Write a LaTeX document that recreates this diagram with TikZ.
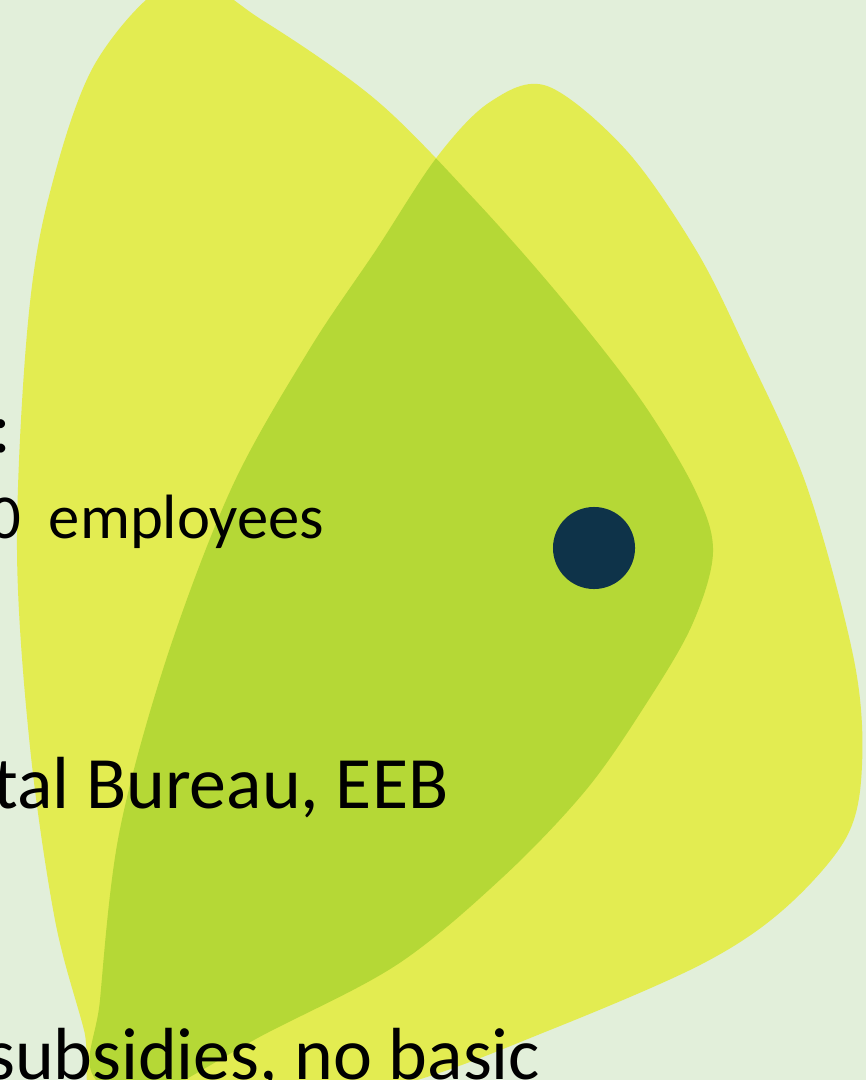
\documentclass[tikz,border=0pt]{standalone}
\usepackage{fontspec}
\setmainfont{Carlito}
\definecolor{bg}{HTML}{E2EFDA}
\definecolor{leaf}{HTML}{E3EC51}
\definecolor{overlap}{HTML}{B5D836}
\definecolor{dotblue}{HTML}{0E3349}
\newcommand\leftleaf{plot[smooth cycle, tension=0.55] coordinates {
  (180,-22) (262,20) (376,100) (475,200) (563,300) (641,400) (695,490)
  (713,552) (692,625) (646,704) (586,790) (503,877) (398,964) (267,1033)
  (105,1115) (84,1030) (55,920) (30,747) (17,550) (27,333) (48,200)
  (96,62)}}
\newcommand\rightleaf{plot[smooth cycle, tension=0.55] coordinates {
  (547,86) (626,150) (696,250) (746,350) (807,487) (854,660) (862,765)
  (846,838) (783,910) (700,965) (550,1030) (400,1085) (200,1125)
  (96,1080) (100,1000) (119,834) (166,660) (232,487) (309,350) (376,250)
  (437,157) (490,102)}}
\tikzset{
  main/.style={anchor=base east, inner sep=0pt, font=\fontsize{21}{25}\selectfont},
  sub/.style={anchor=base east, inner sep=0pt, font=\fontsize{17.8}{21}\selectfont},
  dot/.style={circle, fill=dotblue, inner sep=0pt, minimum size=0.82cm}
}

\begin{document}
\begin{tikzpicture}[x=0.01cm,y=-0.01cm]
  \useasboundingbox (0,0) rectangle (866,1080);
  \clip (0,0) rectangle (866,1080);
  \fill[bg] (0,0) rectangle (866,1080);
  % the two leaves and their overlap
  \fill[leaf] \leftleaf;
  \fill[leaf] \rightleaf;
  \begin{scope}
    \clip \leftleaf;
    \fill[overlap] \rightleaf;
  \end{scope}
  \node[dot] (pt) at (594,548) {};
  % cut-off text lines
  \node[main] (colon) at (12,453) {:};
  \node[sub] (emp) at (325,538) {0\hspace{0.44em}employees};
  \node[main] (eeb) at (449,808) {tal Bureau, EEB};
  \node[main] (subs) at (541,1079) {subsidies, no basic};
\end{tikzpicture}
\end{document}
